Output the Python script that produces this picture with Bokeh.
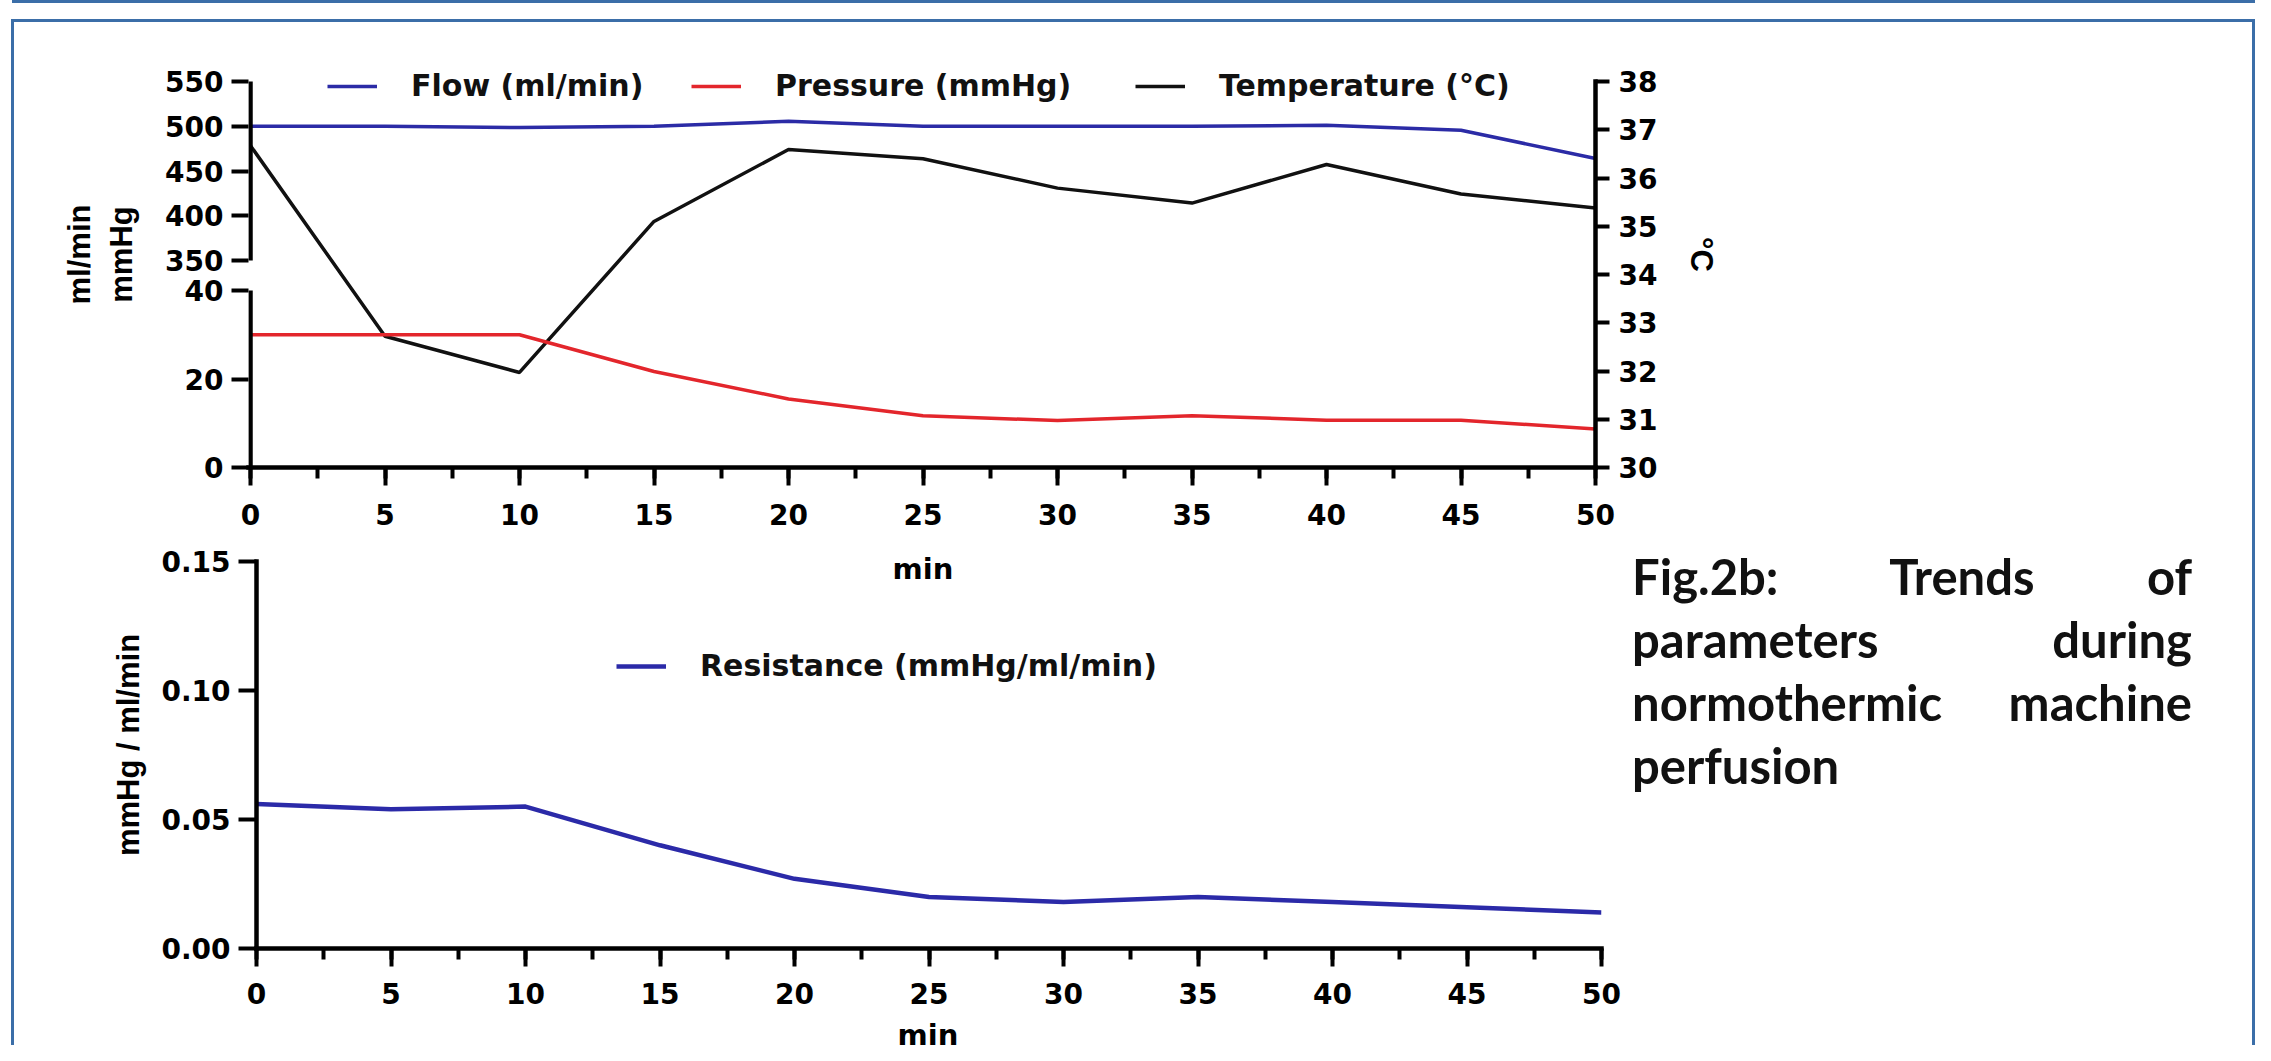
from bokeh.plotting import figure
from bokeh.models import (Range1d, LinearAxis, FixedTicker, SingleIntervalTicker,
                          Legend, LegendItem, Label, Div, PrintfTickFormatter)
from bokeh.layouts import column, row
from bokeh.embed import file_html
from bokeh.resources import INLINE

# ---------------- data ----------------
minutes = [0, 5, 10, 15, 20, 25, 30, 35, 40, 45, 50]
flow = [500, 500, 498.5, 500, 505.5, 500, 500, 500, 501, 495.5, 464]
pressure = [30, 30, 30, 21.7, 15.5, 11.7, 10.6, 11.7, 10.7, 10.7, 8.7]
temperature = [36.67, 32.72, 31.97, 35.1, 36.59, 36.4, 35.79, 35.48, 36.28, 35.67, 35.38]
resistance = [0.056, 0.054, 0.055, 0.040, 0.027, 0.020, 0.018, 0.020, 0.018, 0.016, 0.014]

flow_ticks = [350, 400, 450, 500, 550]
pressure_ticks = [0, 20, 40]
temp_ticks = [30, 31, 32, 33, 34, 35, 36, 37, 38]
res_ticks = [0.0, 0.05, 0.10, 0.15]

flow_label = "Flow (ml/min)"
pressure_label = "Pressure (mmHg)"
temp_label = "Temperature (\u00b0C)"
res_label = "Resistance (mmHg/ml/min)"
x_title = "min"
caption_lines = ["Fig.2b: Trends of", "parameters during", "normothermic machine", "perfusion"]

# ---------------- style ----------------
BORDER = "#3b6ea8"
C_FLOW = "#2b2ba6"
C_PRES = "#e3262c"
C_TEMP = "#111111"
C_RES = "#2b2aa8"
AX_W = 4.5
TICK_FONT = "DejaVu Sans"
TICK_SIZE = "28px"
VT_FONT = "Liberation Sans"
VT_SIZE = "31px"

# upper chart geometry (px)
UP_FRAME_W, UP_AXIS_H = 1347, 386      # axis span 550/38 .. 0/30
UP_EXTRA = 40                           # headroom above the axes for the legend
SPINE_PAD = 2
SEG_FLOW_PX, SEG_PRES_PX = 179, 177
DX = SPINE_PAD * (minutes[-1] - minutes[0]) / (UP_FRAME_W - SPINE_PAD)
UP_H_TOT = UP_AXIS_H + UP_EXTRA

p_hi = pressure_ticks[-1] * UP_H_TOT / SEG_PRES_PX
k_flow = (flow_ticks[-1] - flow_ticks[0]) / SEG_FLOW_PX
f_lo = flow_ticks[-1] - UP_AXIS_H * k_flow
f_hi = flow_ticks[-1] + UP_EXTRA * k_flow
t_hi = temp_ticks[-1] + UP_EXTRA * (temp_ticks[-1] - temp_ticks[0]) / UP_AXIS_H

# lower chart geometry
LO_AXIS_H = 387
LO_EXTRA = 20
r_hi = res_ticks[-1] + LO_EXTRA * (res_ticks[-1] - res_ticks[0]) / LO_AXIS_H


def style_axis(ax, tick_out, minor_out, standoff, title_standoff, title_font, title_size):
    ax.axis_line_width = AX_W
    ax.axis_line_color = "black"
    ax.axis_line_cap = "square"
    ax.major_tick_line_width = 4
    ax.major_tick_line_color = "black"
    ax.major_tick_out = tick_out
    ax.major_tick_in = 0
    if minor_out:
        ax.minor_tick_line_width = 4
        ax.minor_tick_line_color = "black"
        ax.minor_tick_out = minor_out
        ax.minor_tick_in = 0
    else:
        ax.minor_tick_line_color = None
    ax.major_label_text_font = TICK_FONT
    ax.major_label_text_font_style = "bold"
    ax.major_label_text_font_size = TICK_SIZE
    ax.major_label_text_color = "black"
    ax.major_label_standoff = standoff
    ax.axis_label_text_font = title_font
    ax.axis_label_text_font_style = "bold"
    ax.axis_label_text_font_size = title_size
    ax.axis_label_text_color = "black"
    ax.axis_label_standoff = title_standoff


def add_legend(fig, renderer, text, vx, vy):
    lg = Legend(items=[LegendItem(label=text, renderers=[renderer])],
                location=(vx, vy), orientation="horizontal",
                glyph_width=50, glyph_height=30, label_height=30,
                label_standoff=34, padding=0, margin=0, spacing=0,
                border_line_color=None, background_fill_alpha=0,
                label_text_font="DejaVu Sans", label_text_font_style="bold",
                label_text_font_size="30px", label_text_color="#111111")
    fig.add_layout(lg, "center")


# ---------------- upper chart ----------------
up = figure(width=1720, height=517, output_backend="svg", toolbar_location=None,
            x_range=Range1d(minutes[0] - DX, minutes[-1]),
            y_range=Range1d(temp_ticks[0], t_hi),
            y_axis_location="right", x_axis_location="below",
            min_border_left=234, min_border_right=139,
            min_border_top=59 - UP_EXTRA, min_border_bottom=72)
up.extra_y_ranges = {"flow": Range1d(f_lo, f_hi),
                     "pressure": Range1d(pressure_ticks[0], p_hi)}
up.xgrid.visible = False
up.ygrid.visible = False
up.outline_line_color = None
up.background_fill_color = "white"
up.border_fill_color = "white"

r_flow = up.line(minutes, flow, y_range_name="flow", line_color=C_FLOW, line_width=3.5)
r_temp = up.line(minutes, temperature, line_color=C_TEMP, line_width=3.5)
r_pres = up.line(minutes, pressure, y_range_name="pressure", line_color=C_PRES, line_width=3.5)

# x axis
up.xaxis.ticker = SingleIntervalTicker(interval=5, num_minor_ticks=2)
style_axis(up.xaxis[0], 18, 11, 18, 0, TICK_FONT, "29px")

# right axis (temperature)
up.yaxis.ticker = FixedTicker(ticks=temp_ticks)
up.yaxis.bounds = (temp_ticks[0], temp_ticks[-1])
up.yaxis.axis_label = "\u00b0C"
style_axis(up.yaxis[0], 14, 0, 9, 24, VT_FONT, VT_SIZE)

# left broken axis (pressure below, flow above)
flow_pos = [(v - f_lo) / (f_hi - f_lo) * p_hi for v in flow_ticks]
left_ticks = list(pressure_ticks) + flow_pos
overrides = {t: str(v) for t, v in zip(pressure_ticks, pressure_ticks)}
overrides.update({t: str(v) for t, v in zip(flow_pos, flow_ticks)})
left_ax = LinearAxis(y_range_name="pressure", ticker=FixedTicker(ticks=left_ticks),
                     major_label_overrides=overrides, axis_label="ml/min\nmmHg")
style_axis(left_ax, 17, 0, 8, 23, VT_FONT, VT_SIZE)
left_ax.axis_line_color = None
up.add_layout(left_ax, "left")

# spine pieces of the broken axis
up.segment(x0=[minutes[0]], y0=[pressure_ticks[0]], x1=[minutes[0]], y1=[pressure_ticks[-1]],
           y_range_name="pressure", line_color="black", line_width=AX_W)
up.segment(x0=[minutes[0]], y0=[flow_ticks[0]], x1=[minutes[0]], y1=[flow_ticks[-1]],
           y_range_name="flow", line_color="black", line_width=AX_W)

add_legend(up, r_flow, flow_label, 79, 364)
add_legend(up, r_pres, pressure_label, 443, 364)
add_legend(up, r_temp, temp_label, 887, 364)

# ---------------- lower chart ----------------
lo = figure(width=1607, height=480, output_backend="svg", toolbar_location=None,
            x_range=Range1d(minutes[0], minutes[-1]),
            y_range=Range1d(res_ticks[0], r_hi),
            min_border_left=242, min_border_right=20,
            min_border_top=22 - LO_EXTRA, min_border_bottom=71)
lo.xgrid.visible = False
lo.ygrid.visible = False
lo.outline_line_color = None
lo.background_fill_color = "white"
lo.border_fill_color = "white"

r_res = lo.line(minutes, resistance, line_color=C_RES, line_width=4.5)
lo.xaxis.ticker = SingleIntervalTicker(interval=5, num_minor_ticks=2)
style_axis(lo.xaxis[0], 18, 11, 16, 0, TICK_FONT, "29px")
lo.yaxis.ticker = FixedTicker(ticks=res_ticks)
lo.yaxis.bounds = (res_ticks[0], res_ticks[-1])
lo.yaxis.formatter = PrintfTickFormatter(format="%.2f")
lo.yaxis.axis_label = "mmHg / ml/min"
style_axis(lo.yaxis[0], 18, 0, 8, 12, VT_FONT, VT_SIZE)

add_legend(lo, r_res, res_label, 360, 265)

# x-axis title of the upper chart (sits on top of the lower axes)
lo.add_layout(Label(x=(minutes[0] + minutes[-1]) / 2, y=res_ticks[-1], x_offset=-6, y_offset=-7,
                    text=x_title, text_align="center", text_baseline="alphabetic",
                    text_font="DejaVu Sans", text_font_style="bold", text_font_size="29px",
                    text_color="black"))

# x-axis title of the lower chart, set as text under its canvas
lo_title = Div(text=('<div style="margin-left:714px;width:400px;text-align:center;'
                     'font-family:\'DejaVu Sans\';font-weight:700;font-size:29px;'
                     'line-height:32px;color:black;">' + x_title + '</div>'),
               width=1607, height=26, margin=(0, 0, 0, 0))

# ---------------- caption ----------------
parts = []
for i, ln in enumerate(caption_lines):
    al = "left" if i == len(caption_lines) - 1 else "justify"
    parts.append(f'<div style="text-align:{al};text-align-last:{al};">{ln}</div>')
cap_html = ('<div style="font-family:Lato;font-weight:700;font-size:49px;line-height:63px;'
            'color:#111111;width:560px;">' + "".join(parts) + "</div>")
caption = Div(text=cap_html, width=620, height=300, margin=(6, 0, 0, 11))

# ---------------- frame / borders ----------------
strip = Div(text="", width=2243, height=3, margin=(0, 0, 0, 12),
            styles={"background-color": BORDER})
top_border = Div(text="", width=2244, height=3, margin=(16, 0, 0, 11),
                 styles={"background-color": BORDER})
left_border = Div(text="", width=3, height=1023, margin=(0, 0, 0, 0),
                  styles={"background-color": BORDER})
right_border = Div(text="", width=3, height=1023, margin=(0, 0, 0, 0),
                   styles={"background-color": BORDER})

content = column(up, row(column(lo, lo_title, spacing=0), caption, spacing=0), spacing=0)
body = row(left_border, content, right_border, spacing=0, margin=(0, 0, 0, 11))
root = column(strip, top_border, body, spacing=0)

open("out.html", "w").write(file_html(root, INLINE, "Fig.2b"))
